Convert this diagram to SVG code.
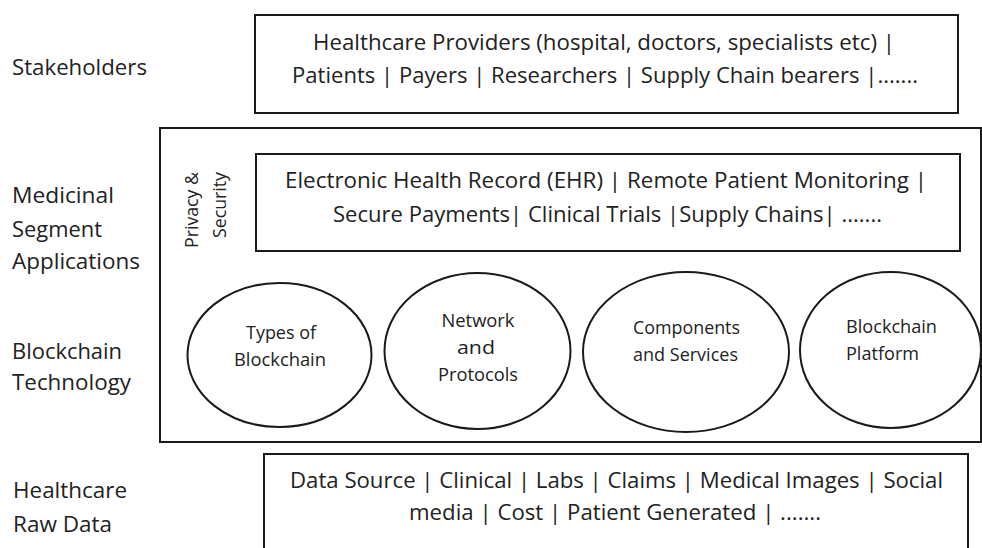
<svg xmlns="http://www.w3.org/2000/svg" width="982" height="548" viewBox="0 0 982 548">
<style>
  .box { fill: #ffffff; stroke: #1a1a1a; stroke-width: 2; }
  .ell { fill: #ffffff; stroke: #1a1a1a; stroke-width: 2; }
  text { font-family: "Open Sans", "DejaVu Sans", sans-serif; fill: #222222; }
  .lbl { font-size: 21px; }
  .bx { font-size: 21px; text-anchor: middle; }
  .el { font-size: 18.5px; text-anchor: middle; }
  .els { font-size: 18.5px; }
  .ps { font-size: 18px; text-anchor: middle; }
</style>
<rect x="0" y="0" width="982" height="548" fill="#ffffff"/>

<g id="layer-labels">
  <text class="lbl" x="12" y="75" textLength="135" lengthAdjust="spacingAndGlyphs">Stakeholders</text>
  <text class="lbl" x="12" y="203" textLength="102" lengthAdjust="spacingAndGlyphs">Medicinal</text>
  <text class="lbl" x="12" y="237" textLength="90" lengthAdjust="spacingAndGlyphs">Segment</text>
  <text class="lbl" x="12" y="269" textLength="128" lengthAdjust="spacingAndGlyphs">Applications</text>
  <text class="lbl" x="12" y="359" textLength="110" lengthAdjust="spacingAndGlyphs">Blockchain</text>
  <text class="lbl" x="12" y="390" textLength="119" lengthAdjust="spacingAndGlyphs">Technology</text>
  <text class="lbl" x="13" y="498" textLength="114" lengthAdjust="spacingAndGlyphs">Healthcare</text>
  <text class="lbl" x="13" y="532" textLength="99" lengthAdjust="spacingAndGlyphs">Raw Data</text>
</g>

<g id="stakeholders">
  <rect class="box" x="255" y="15" width="703" height="98"/>
  <text class="bx" x="604" y="50" textLength="582" lengthAdjust="spacingAndGlyphs">Healthcare Providers (hospital, doctors, specialists etc)  |</text>
  <text class="bx" x="605" y="83" textLength="626" lengthAdjust="spacingAndGlyphs">Patients | Payers | Researchers | Supply Chain bearers |.......</text>
</g>

<g id="platform">
  <rect class="box" x="160" y="128" width="821" height="314"/>
</g>

<g id="privacy-security">
  <text class="ps" transform="translate(198,210) rotate(-90)" x="0" y="0" textLength="76" lengthAdjust="spacingAndGlyphs">Privacy &amp;</text>
  <text class="ps" transform="translate(226,205) rotate(-90)" x="0" y="0" textLength="66" lengthAdjust="spacingAndGlyphs">Security</text>
</g>

<g id="applications">
  <rect class="box" x="256" y="154" width="704" height="97"/>
  <text class="bx" x="606" y="188" textLength="642" lengthAdjust="spacingAndGlyphs">Electronic Health Record (EHR) | Remote Patient Monitoring |</text>
  <text class="bx" x="607.5" y="222" textLength="549" lengthAdjust="spacingAndGlyphs">Secure Payments| Clinical Trials |Supply Chains| .......</text>
</g>

<g id="types-of-blockchain">
  <ellipse class="ell" cx="279.5" cy="355" rx="92" ry="72"/>
  <text class="el" x="281" y="339" textLength="70" lengthAdjust="spacingAndGlyphs">Types of</text>
  <text class="el" x="280" y="366" textLength="92" lengthAdjust="spacingAndGlyphs">Blockchain</text>
</g>

<g id="network-protocols">
  <ellipse class="ell" cx="477.5" cy="351" rx="93" ry="78"/>
  <text class="el" x="478" y="327" textLength="73" lengthAdjust="spacingAndGlyphs">Network</text>
  <text class="el" x="476" y="354" textLength="38" lengthAdjust="spacingAndGlyphs">and</text>
  <text class="el" x="478" y="381" textLength="80" lengthAdjust="spacingAndGlyphs">Protocols</text>
</g>

<g id="components-services">
  <ellipse class="ell" cx="686" cy="352" rx="103" ry="80"/>
  <text class="els" x="633" y="334" textLength="107" lengthAdjust="spacingAndGlyphs">Components</text>
  <text class="els" x="633" y="361" textLength="105" lengthAdjust="spacingAndGlyphs">and Services</text>
</g>

<g id="blockchain-platform">
  <ellipse class="ell" cx="890.5" cy="350" rx="90.5" ry="78"/>
  <text class="els" x="846" y="333" textLength="91" lengthAdjust="spacingAndGlyphs">Blockchain</text>
  <text class="els" x="846" y="360" textLength="73" lengthAdjust="spacingAndGlyphs">Platform</text>
</g>

<g id="raw-data">
  <rect class="box" x="264" y="454" width="704" height="110"/>
  <text class="bx" x="616.5" y="488" textLength="653" lengthAdjust="spacingAndGlyphs">Data Source | Clinical | Labs | Claims | Medical Images | Social</text>
  <text class="bx" x="615" y="520" textLength="412" lengthAdjust="spacingAndGlyphs">media | Cost | Patient Generated | .......</text>
</g>

<g id="connectors"/>
</svg>
